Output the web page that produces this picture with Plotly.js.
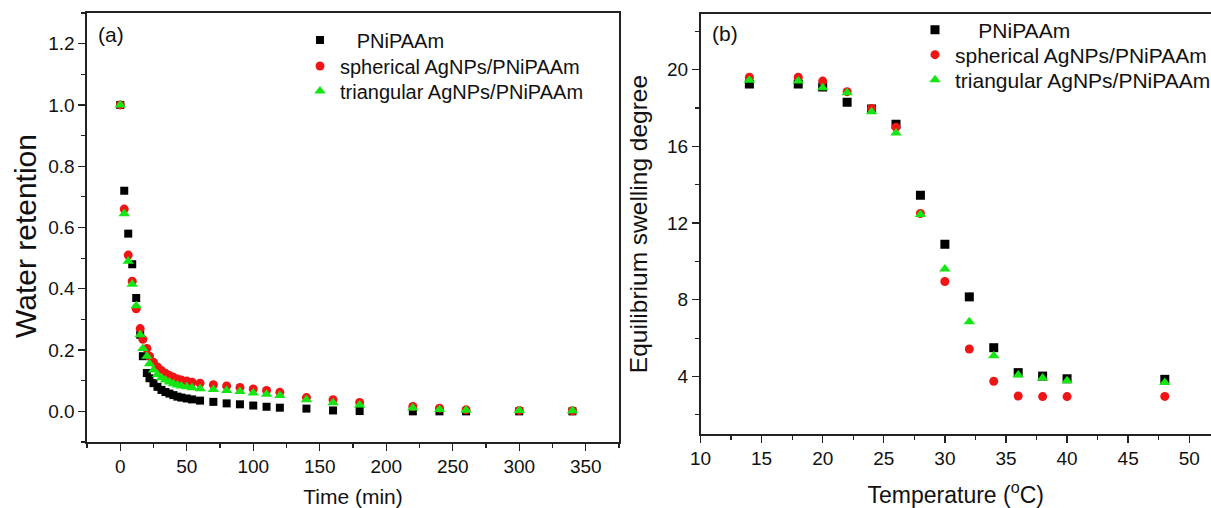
<!DOCTYPE html>
<html>
<head>
<meta charset="utf-8">
<script src="https://cdn.plot.ly/plotly-3.0.1.min.js"></script>
<style>html,body{margin:0;padding:0;background:#fff;overflow:hidden}</style>
</head>
<body>
<div id="chart" style="width:1211px;height:508px"></div>
<script>
// ---------- data: panel (a) ----------
const seriesNames = ['PNiPAAm', 'spherical AgNPs/PNiPAAm', 'triangular AgNPs/PNiPAAm'];
const timeMin = [0, 3, 6, 9, 12, 15, 17, 20, 22, 25, 28, 31, 34, 37, 40, 43, 46, 50, 54, 60, 70, 80, 90, 100, 110, 120, 140, 160, 180, 220, 240, 260, 300, 340];
const retentionPNiPAAm = [1.0, 0.72, 0.58, 0.48, 0.37, 0.25, 0.18, 0.125, 0.108, 0.092, 0.08, 0.07, 0.063, 0.058, 0.053, 0.048, 0.045, 0.042, 0.039, 0.035, 0.031, 0.026, 0.023, 0.019, 0.015, 0.012, 0.009, 0.003, 0.001, 0, 0, 0, 0, 0];
const retentionSpherical = [1.0, 0.66, 0.51, 0.425, 0.335, 0.27, 0.235, 0.205, 0.18, 0.16, 0.145, 0.133, 0.124, 0.117, 0.111, 0.106, 0.102, 0.099, 0.095, 0.092, 0.087, 0.083, 0.078, 0.073, 0.068, 0.062, 0.045, 0.038, 0.029, 0.016, 0.01, 0.005, 0.003, 0.002];
const retentionTriangular = [1.0, 0.645, 0.49, 0.415, 0.345, 0.25, 0.205, 0.18, 0.155, 0.135, 0.12, 0.11, 0.102, 0.096, 0.09, 0.086, 0.083, 0.08, 0.077, 0.074, 0.071, 0.068, 0.065, 0.06, 0.056, 0.052, 0.038, 0.028, 0.021, 0.011, 0.006, 0.004, 0.003, 0.002];

// ---------- data: panel (b) ----------
const temperatureC = [14, 18, 20, 22, 24, 26, 28, 30, 32, 34, 36, 38, 40, 48];
const swellingPNiPAAm = [19.25, 19.25, 19.1, 18.3, 17.95, 17.15, 13.45, 10.9, 8.15, 5.5, 4.2, 4.02, 3.88, 3.85];
const swellingSpherical = [19.6, 19.6, 19.4, 18.85, 17.97, 17.0, 12.5, 8.95, 5.43, 3.75, 2.98, 2.95, 2.95, 2.96];
const swellingTriangular = [19.45, 19.4, 19.05, 18.8, 17.8, 16.7, 12.45, 9.6, 6.85, 5.08, 4.08, 3.92, 3.78, 3.68];

const xTicksA = [0, 50, 100, 150, 200, 250, 300, 350];
const yTicksA = [0, 0.2, 0.4, 0.6, 0.8, 1.0, 1.2];
const xTicksB = [10, 15, 20, 25, 30, 35, 40, 45, 50];
const yTicksB = [4, 8, 12, 16, 20];

// ---------- styles ----------
const colors = ['#000000', '#f01414', '#14e614'];
const symbols = ['square', 'circle', 'triangle-up'];
const sizesA = [8, 9, 10];
const sizesB = [9, 9, 10];
const FONT = 'Liberation Sans, Arial, sans-serif';
const padA = '\u00a0\u00a0\u00a0';
const padB = '\u00a0\u00a0\u00a0\u00a0';

const seriesA = [retentionPNiPAAm, retentionSpherical, retentionTriangular];
const seriesB = [swellingPNiPAAm, swellingSpherical, swellingTriangular];

const traces = [];
seriesA.forEach((ys, i) => traces.push({
  type: 'scatter', mode: 'markers', x: timeMin, y: ys,
  name: (i === 0 ? padA : '') + seriesNames[i],
  xaxis: 'x', yaxis: 'y', legend: i === 0 ? 'legend' : 'legend' + (i + 1),
  marker: {symbol: symbols[i], size: sizesA[i], color: colors[i], line: {width: 0}}
}));
seriesB.forEach((ys, i) => traces.push({
  type: 'scatter', mode: 'markers', x: temperatureC, y: ys,
  name: (i === 0 ? padB : '') + seriesNames[i],
  xaxis: 'x2', yaxis: 'y2', legend: 'legend' + (i + 4),
  marker: {symbol: symbols[i], size: sizesB[i], color: colors[i], line: {width: 0}}
}));

const axisCommon = {
  showgrid: false, zeroline: false, showline: true, linecolor: '#222', linewidth: 1.6,
  ticks: 'outside', ticklen: 7, tickwidth: 1.4, tickcolor: '#222',
  tickfont: {family: FONT, size: 19, color: '#111'}
};

function legendAt(xpx, ypx, size) {
  return {
    x: xpx / 1211, xanchor: 'left', y: 1 - ypx / 508, yanchor: 'middle',
    bgcolor: 'rgba(0,0,0,0)', borderwidth: 0,
    font: {family: FONT, size: size, color: '#111'}, itemclick: false
  };
}

const layout = {
  width: 1211, height: 508,
  margin: {l: 0, r: 0, t: 0, b: 0, autoexpand: false},
  paper_bgcolor: '#fff', plot_bgcolor: '#fff',
  font: {family: FONT, color: '#111'},
  xaxis: Object.assign({}, axisCommon, {
    domain: [87 / 1211, 619 / 1211], anchor: 'y', range: [-25, 375],
    tickvals: xTicksA, mirror: true,
    minor: {dtick: 25, tick0: 0, ticks: 'outside', ticklen: 4, tickwidth: 1.2, tickcolor: '#222'},
    title: {text: 'Time (min)', font: {family: FONT, size: 21, color: '#111'}, standoff: 14}
  }),
  yaxis: Object.assign({}, axisCommon, {
    domain: [(508 - 442) / 508, (508 - 13) / 508], anchor: 'x', range: [-0.1, 1.3],
    tickvals: yTicksA, tickformat: '.1f', mirror: true,
    minor: {dtick: 0.1, tick0: 0, ticks: 'outside', ticklen: 4, tickwidth: 1.2, tickcolor: '#222'}
  }),
  xaxis2: Object.assign({}, axisCommon, {
    domain: [700.5 / 1211, 1], anchor: 'y2', range: [10, 51.78],
    tickvals: xTicksB, mirror: true,
    minor: {dtick: 2.5, tick0: 10, ticks: 'outside', ticklen: 4, tickwidth: 1.2, tickcolor: '#222'},
    title: {text: 'Temperature (<sup>o</sup>C)', font: {family: FONT, size: 23, color: '#111'}, standoff: 19}
  }),
  yaxis2: Object.assign({}, axisCommon, {
    domain: [(508 - 434) / 508, (508 - 14) / 508], anchor: 'x2', range: [1, 22.9],
    tickvals: yTicksB,
    minor: {dtick: 2, tick0: 0, ticks: 'outside', ticklen: 4, tickwidth: 1.2, tickcolor: '#222'},
    title: {text: 'Equilibrium swelling degree', font: {family: FONT, size: 24.5, color: '#111'}, standoff: 12}
  }),
  legend: legendAt(300, 40, 20),
  legend2: legendAt(300, 66, 20),
  legend3: legendAt(300, 91, 20),
  legend4: legendAt(915, 30, 21),
  legend5: legendAt(915, 55, 21),
  legend6: legendAt(915, 80, 21),
  annotations: [
    {text: '(a)', xref: 'paper', yref: 'paper', x: 96 / 1211, y: 1 - 35 / 508, xanchor: 'left', yanchor: 'middle',
     showarrow: false, font: {family: FONT, size: 21, color: '#111'}},
    {text: '(b)', xref: 'paper', yref: 'paper', x: 710 / 1211, y: 1 - 34 / 508, xanchor: 'left', yanchor: 'middle',
     showarrow: false, font: {family: FONT, size: 21, color: '#111'}},
    {text: 'Water retention', xref: 'paper', yref: 'paper', x: 25 / 1211, y: 1 - 236 / 508, xanchor: 'center', yanchor: 'middle',
     textangle: -90, showarrow: false, font: {family: FONT, size: 30, color: '#111'}}
  ],
  showlegend: true
};

Plotly.newPlot('chart', traces, layout, {staticPlot: true, displayModeBar: false});
</script>
</body>
</html>
